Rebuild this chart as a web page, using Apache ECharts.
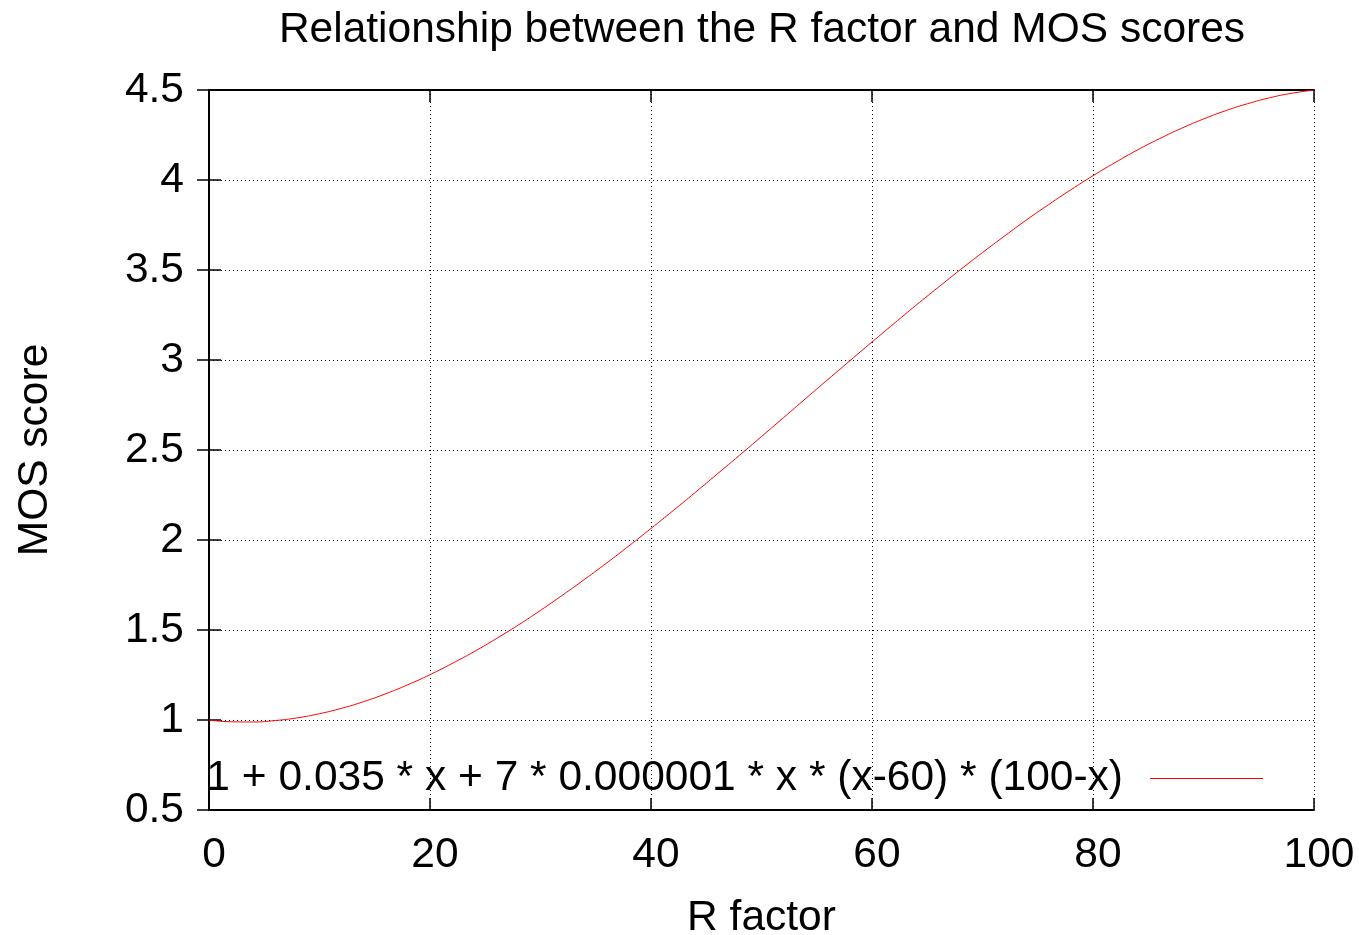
<!DOCTYPE html>
<html>
<head>
<meta charset="utf-8">
<script src="https://cdn.jsdelivr.net/npm/echarts@6/dist/echarts.min.js"></script>
<style>
  html, body { margin: 0; padding: 0; background: #fff; overflow: hidden; }
  #chart { width: 1359px; height: 935px; }
</style>
</head>
<body>
<div id="chart"></div>
<script>
// R factor sample points (x axis)
const rFactor = [0, 2, 4, 6, 8, 10, 12, 14, 16, 18, 20, 22, 24, 26, 28, 30, 32, 34, 36, 38,
  40, 42, 44, 46, 48, 50, 52, 54, 56, 58, 60, 62, 64, 66, 68, 70, 72, 74, 76, 78,
  80, 82, 84, 86, 88, 90, 92, 94, 96, 98, 100];
// MOS score at each R factor
const mosScore = [1.000, 0.990, 0.989, 0.997, 1.012, 1.035, 1.065, 1.102, 1.146, 1.196,
  1.252, 1.314, 1.380, 1.452, 1.528, 1.609, 1.694, 1.782, 1.873, 1.967,
  2.064, 2.163, 2.264, 2.367, 2.470, 2.575, 2.680, 2.786, 2.891, 2.996,
  3.100, 3.203, 3.305, 3.404, 3.502, 3.597, 3.689, 3.779, 3.864, 3.946,
  4.024, 4.097, 4.166, 4.229, 4.287, 4.339, 4.385, 4.424, 4.457, 4.482, 4.500];
const xTicks = { min: 0, max: 100, interval: 20 };
const yTicks = { min: 0.5, max: 4.5, interval: 0.5 };
const seriesName = '1 + 0.035 * x + 7 * 0.000001 * x * (x-60) * (100-x)';

const FONT = 'Liberation Sans, Arial, sans-serif';
const FS = 42.5;

const points = rFactor.map((r, i) => [r, mosScore[i]]);

// Shared frame axis: thick border line with inward ticks, no labels
function axisBase(extra) {
  return Object.assign({
    type: 'value',
    axisLine: { show: true, lineStyle: { color: '#000', width: 2 } },
    axisTick: { show: true, inside: true, length: 12, lineStyle: { color: '#000', width: 1.5 } },
    splitLine: { show: false },
    axisLabel: { show: false }
  }, extra);
}

const dotted = { color: '#000', width: 1, type: [1, 3] };

const chart = echarts.init(document.getElementById('chart'), null, { renderer: 'canvas' });
chart.setOption({
  animation: false,
  backgroundColor: '#fff',
  title: {
    text: 'Relationship between the R factor and MOS scores',
    left: 757, textAlign: 'center', top: 4,
    textStyle: { fontFamily: FONT, fontSize: FS, fontWeight: 'normal', color: '#000' }
  },
  grid: {
    left: 209, top: 90, width: 1105, height: 720,
    containLabel: false, outerBoundsMode: 'none'
  },
  legend: {
    data: [{ name: seriesName, icon: 'rect' }],
    right: 91, top: 752,
    orient: 'horizontal',
    align: 'right',
    itemWidth: 113, itemHeight: 1,
    itemStyle: { color: '#ff0000' },
    textStyle: { fontFamily: FONT, fontSize: FS, color: '#000', padding: [0, 22, 0, 0] }
  },
  xAxis: [
    axisBase(Object.assign({}, xTicks, {
      position: 'bottom',
      name: 'R factor', nameLocation: 'middle', nameGap: 87,
      nameTextStyle: { fontFamily: FONT, fontSize: FS, color: '#000' },
      axisLabel: { show: true, margin: 24, fontFamily: FONT, fontSize: FS, color: '#000', padding: [0, 0, 0, 10] },
      splitLine: { show: true, lineStyle: dotted }
    })),
    axisBase(Object.assign({}, xTicks, { position: 'top' }))
  ],
  yAxis: [
    axisBase(Object.assign({}, yTicks, {
      position: 'left',
      name: 'MOS score', nameLocation: 'middle', nameGap: 152, nameRotate: 90,
      nameTextStyle: { fontFamily: FONT, fontSize: FS, color: '#000' },
      axisLabel: { show: true, margin: 25, fontFamily: FONT, fontSize: FS, color: '#000' },
      splitLine: { show: true, lineStyle: dotted }
    })),
    axisBase(Object.assign({}, yTicks, { position: 'right' }))
  ],
  series: [{
    name: seriesName,
    type: 'line',
    xAxisIndex: 0, yAxisIndex: 0,
    data: points,
    smooth: true,
    symbol: 'none',
    lineStyle: { color: '#ff0000', width: 1 },
    itemStyle: { color: '#ff0000' }
  }]
});
</script>
</body>
</html>
